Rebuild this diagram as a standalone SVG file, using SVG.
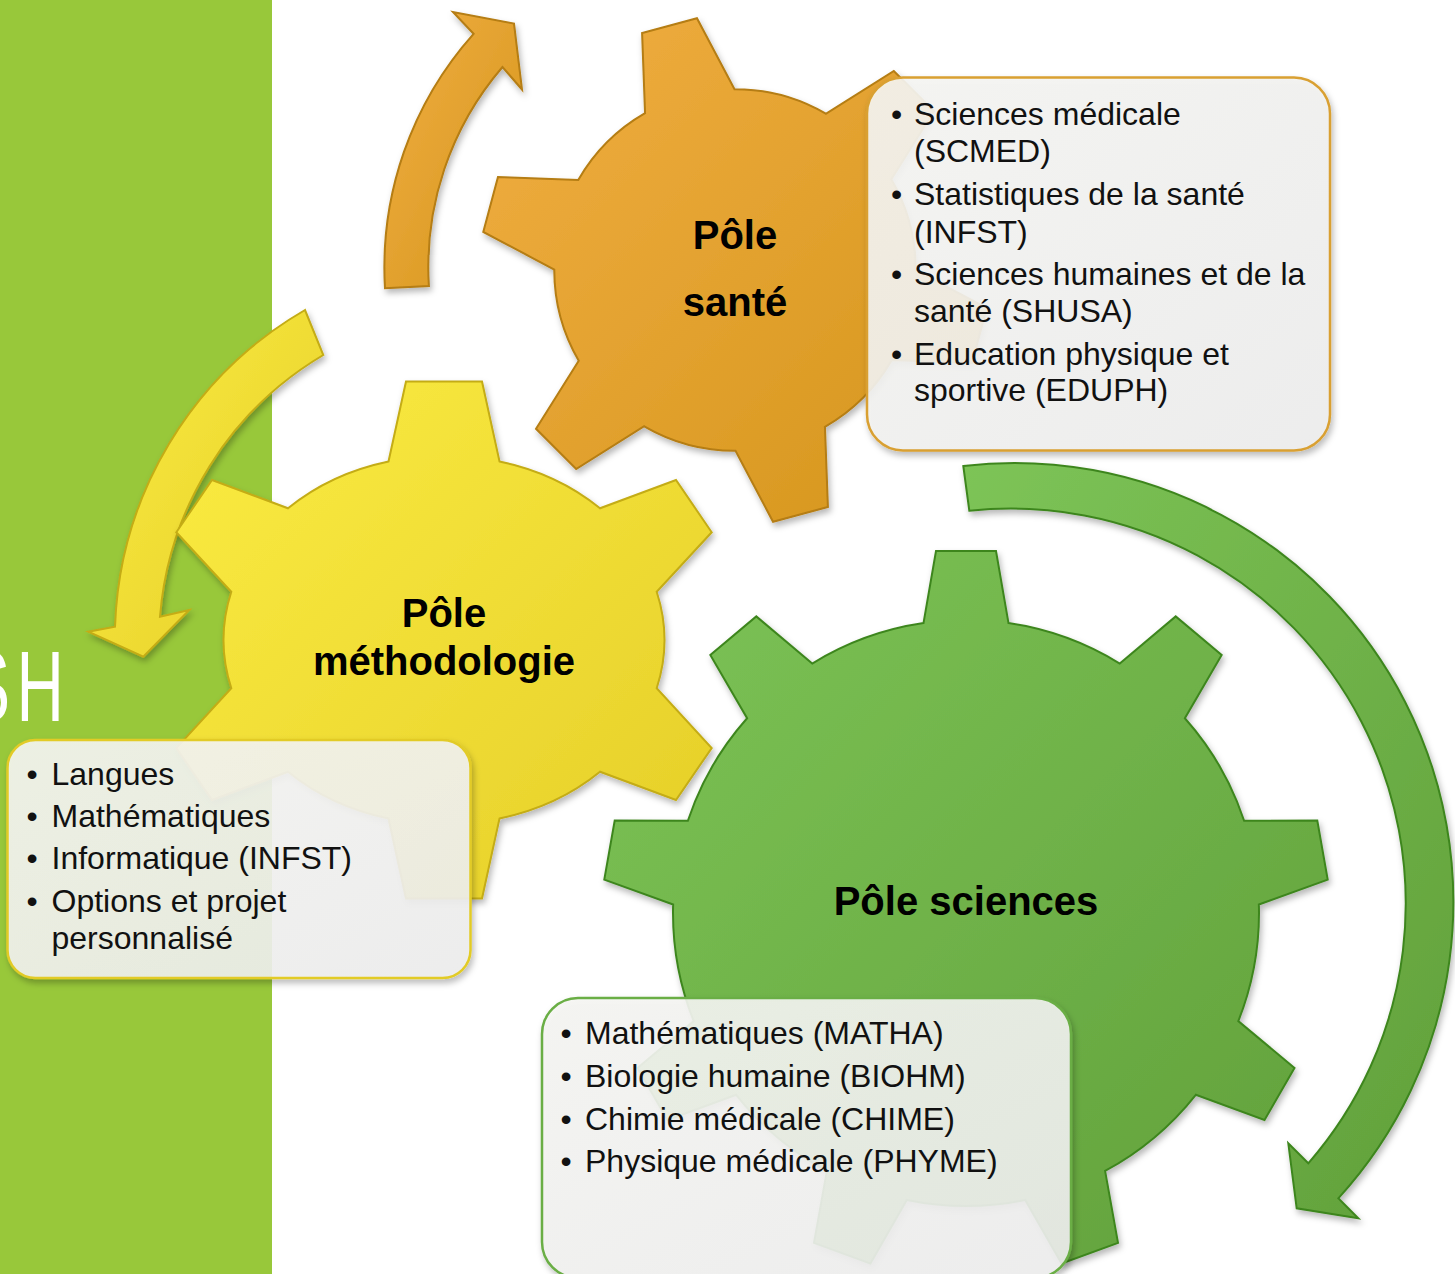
<svg xmlns="http://www.w3.org/2000/svg" width="1455" height="1274" viewBox="0 0 1455 1274">
<defs>
<style>
.t{font-family:"Liberation Sans",Arial,sans-serif;font-size:32px;fill:#111}
.h{font-family:"Liberation Sans",Arial,sans-serif;font-size:40px;font-weight:bold;fill:#000;text-anchor:middle}
.box{fill:url(#boxg);fill-opacity:0.9;stroke-width:2.5}
.gear{stroke-width:2;stroke-linejoin:miter}
</style>
<linearGradient id="gOr" x1="0" y1="0" x2="1" y2="1"><stop offset="0" stop-color="#F1AE42"/><stop offset="1" stop-color="#D4951B"/></linearGradient>
<linearGradient id="gYe" x1="0" y1="0" x2="1" y2="1"><stop offset="0" stop-color="#FBEC42"/><stop offset="1" stop-color="#E5CE28"/></linearGradient>
<linearGradient id="gGr" x1="0" y1="0" x2="1" y2="1"><stop offset="0" stop-color="#7DC457"/><stop offset="1" stop-color="#61A03A"/></linearGradient>
<linearGradient id="boxg" x1="0" y1="0" x2="1" y2="1"><stop offset="0" stop-color="#F6F6F3"/><stop offset="1" stop-color="#EEEEEE"/></linearGradient>
<filter id="sh" x="-10%" y="-10%" width="125%" height="125%"><feDropShadow dx="2" dy="4" stdDeviation="3" flood-color="#000" flood-opacity="0.28"/></filter>
</defs>

<rect x="0" y="0" width="1455" height="1274" fill="#FFFFFF"/>
<g id="panel">
<rect x="0" y="0" width="272" height="1274" fill="#98C83A"/>
<text transform="scale(0.65,1)" x="-52" y="721" font-family="Liberation Sans, Arial, sans-serif" font-size="101" letter-spacing="10" fill="#FFFFFF">SH</text>
</g>

<g id="connectors" filter="url(#sh)">
<path id="arrow-sante" d="M385,288.3 A350.5,350.5 0 0 1 473.6,33.8 L453,12 L514,23.6 L522,89.5 L502.5,67 A306.5,306.5 0 0 0 428.9,286 Z" fill="url(#gOr)" stroke="#B57D12" stroke-width="2"/>
<path id="arrow-methodologie" d="M305,310 A381,381 0 0 0 115,626.7 L88.3,631.7 L143.3,656.7 L189.3,610 L160,616.7 A335,335 0 0 1 323.3,355 Z" fill="url(#gYe)" stroke="#C4AC14" stroke-width="2"/>
<path id="arrow-sciences" d="M963.3,466 A439,439 0 0 1 1338.3,1198.3 L1358.3,1218.3 L1296.7,1208.3 L1288.3,1143.3 L1308.3,1163.3 A395,395 0 0 0 969.3,510.7 Z" fill="url(#gGr)" stroke="#3E861F" stroke-width="2"/>
</g>

<g id="gear-sante">
<path class="gear" filter="url(#sh)" fill="url(#gOr)" stroke="#B57D12" d="M645.07,113.23 L642.09,32.97 L696.95,18.27 L734.51,89.27 A180.7,180.7 0 0 1 825.79,113.73 L893.82,71.02 L933.98,111.18 L891.27,179.21 A180.7,180.7 0 0 1 915.73,270.49 L986.73,308.05 L972.03,362.91 L891.77,359.93 A180.7,180.7 0 0 1 824.93,426.77 L827.91,507.03 L773.05,521.73 L735.49,450.73 A180.7,180.7 0 0 1 644.21,426.27 L576.18,468.98 L536.02,428.82 L578.73,360.79 A180.7,180.7 0 0 1 554.27,269.51 L483.27,231.95 L497.97,177.09 L578.23,180.07 A180.7,180.7 0 0 1 645.07,113.23 Z"/>
<text class="h" x="735" y="249">Pôle</text>
<text class="h" x="735" y="316">santé</text>
</g>

<g id="gear-methodologie">
<path class="gear" filter="url(#sh)" fill="url(#gYe)" stroke="#C4AC14" d="M388.5,461.5 L406,381.5 L482,381.5 L499.5,461.5 A220.5,184.4 0 0 1 600,508.3 L676,480 L711.7,532.3 L656.7,591.7 A220.5,184.4 0 0 1 656.7,688.3 L711.7,748 L676,800 L600,771.7 A220.5,184.4 0 0 1 499.5,818.5 L482,898.5 L406,898.5 L388.5,818.5 A220.5,184.4 0 0 1 288,771.7 L212,800 L176.3,748 L231.3,688.3 A220.5,184.4 0 0 1 231.3,591.7 L176.3,532.3 L212,480 L288,508.3 A220.5,184.4 0 0 1 388.5,461.5 Z"/>
<text class="h" x="444" y="627">Pôle</text>
<text class="h" x="444" y="675">méthodologie</text>
</g>

<g id="gear-sciences">
<path class="gear" filter="url(#sh)" fill="url(#gGr)" stroke="#3E861F" d="M923.5,623.1 L936,551 L996,551 L1008.5,623.1 A293,293 0 0 1 1119.78,663.6 L1175.71,616.41 L1221.67,654.97 L1184.9,718.24 A293,293 0 0 1 1244.11,820.81 L1317.29,820.6 L1327.71,879.68 L1258.87,904.51 A293,293 0 0 1 1238.31,1021.14 L1294.5,1068.02 L1264.5,1119.98 L1195.81,1094.76 A293,293 0 0 1 1105.09,1170.88 L1118,1242.91 L1061.62,1263.43 L1025.21,1199.96 A293,293 0 0 1 906.79,1199.96 L870.38,1263.43 L814,1242.91 L826.91,1170.88 A293,293 0 0 1 736.19,1094.76 L667.5,1119.98 L637.5,1068.02 L693.69,1021.14 A293,293 0 0 1 673.13,904.51 L604.29,879.68 L614.71,820.6 L687.89,820.81 A293,293 0 0 1 747.1,718.24 L710.33,654.97 L756.29,616.41 L812.22,663.6 A293,293 0 0 1 923.5,623.1 Z"/>
<text class="h" x="966" y="915">Pôle sciences</text>
</g>

<g id="box-sante">
<rect class="box" filter="url(#sh)" x="867" y="77.5" width="463" height="373" rx="36" ry="36" stroke="#D9A032"/>
<text class="t" x="891" y="125">•</text><text class="t" x="914" y="125">Sciences médicale</text>
<text class="t" x="914" y="162">(SCMED)</text>
<text class="t" x="891" y="205">•</text><text class="t" x="914" y="205">Statistiques de la santé</text>
<text class="t" x="914" y="243">(INFST)</text>
<text class="t" x="891" y="285">•</text><text class="t" x="914" y="285">Sciences humaines et de la</text>
<text class="t" x="914" y="322">santé (SHUSA)</text>
<text class="t" x="891" y="365">•</text><text class="t" x="914" y="365">Education physique et</text>
<text class="t" x="914" y="401">sportive (EDUPH)</text>
</g>

<g id="box-methodologie">
<rect class="box" filter="url(#sh)" x="7.5" y="740" width="463" height="238" rx="28" ry="28" stroke="#E2CB26"/>
<text class="t" x="26.5" y="785">•</text><text class="t" x="51.5" y="785">Langues</text>
<text class="t" x="26.5" y="827">•</text><text class="t" x="51.5" y="827">Mathématiques</text>
<text class="t" x="26.5" y="869">•</text><text class="t" x="51.5" y="869">Informatique (INFST)</text>
<text class="t" x="26.5" y="912">•</text><text class="t" x="51.5" y="912">Options et projet</text>
<text class="t" x="51.5" y="949">personnalisé</text>
</g>

<g id="box-sciences">
<rect class="box" filter="url(#sh)" x="542" y="998" width="529" height="280" rx="36" ry="36" stroke="#6AAE45"/>
<text class="t" x="560.5" y="1044">•</text><text class="t" x="585" y="1044">Mathématiques (MATHA)</text>
<text class="t" x="560.5" y="1087">•</text><text class="t" x="585" y="1087">Biologie humaine (BIOHM)</text>
<text class="t" x="560.5" y="1130">•</text><text class="t" x="585" y="1130">Chimie médicale (CHIME)</text>
<text class="t" x="560.5" y="1172">•</text><text class="t" x="585" y="1172">Physique médicale (PHYME)</text>
</g>
</svg>
